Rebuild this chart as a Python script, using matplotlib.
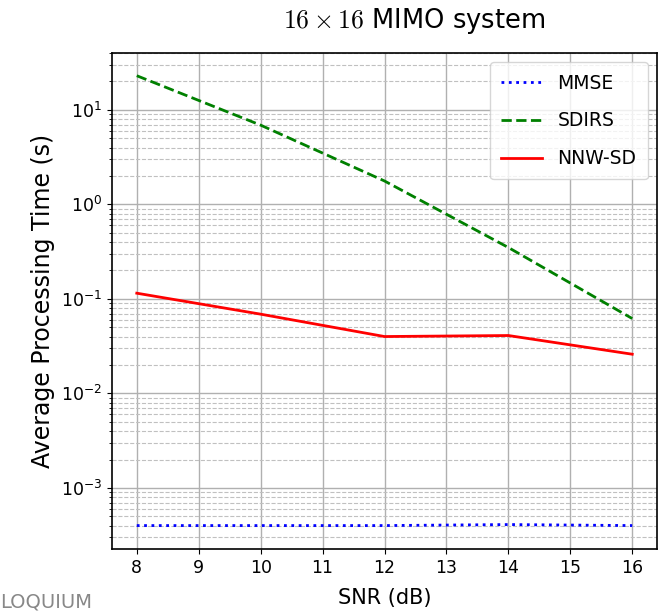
import matplotlib
matplotlib.use("Agg")
import matplotlib.pyplot as plt
from matplotlib.ticker import LogLocator

snr = [8, 10, 12, 14, 16]
mmse = [4.0e-4, 4.0e-4, 4.0e-4, 4.1e-4, 4.0e-4]
sdirs = [23, 6.9, 1.77, 0.35, 0.062]
nnwsd = [0.115, 0.069, 0.040, 0.041, 0.026]
xticks = [8, 9, 10, 11, 12, 13, 14, 15, 16]

fig = plt.figure(figsize=(6.67, 6.13), dpi=100)
ax = fig.add_axes([112/667, 1-549/613, (657-112)/667, (549-53)/613])

ax.plot(snr, mmse, color="blue", linestyle=":", linewidth=2, label="MMSE")
ax.plot(snr, sdirs, color="green", linestyle="--", linewidth=2, label="SDIRS")
ax.plot(snr, nnwsd, color="red", linestyle="-", linewidth=2, label="NNW-SD")

ax.set_yscale("log")
ax.set_ylim(2.26e-4, 40)
ax.set_xlim(7.6, 16.4)
ax.set_xticks(xticks)
ax.yaxis.set_major_locator(LogLocator(base=10, numticks=20))
ax.yaxis.set_minor_locator(LogLocator(base=10, subs=range(2, 10), numticks=100))
ax.grid(True, which="major", color="#b0b0b0", linestyle="-", linewidth=1)
ax.grid(True, which="minor", axis="y", color="#c0c0c0", linestyle="--", linewidth=0.8)
ax.tick_params(labelsize=12.5)
for s in ax.spines.values():
    s.set_linewidth(1.2)

ax.set_xlabel("SNR (dB)", fontsize=15, labelpad=8)
ax.set_ylabel("Average Processing Time (s)", fontsize=17)
ax.set_title(r"$16\times16$ MIMO system", fontsize=18.5, x=0.554, pad=18,
             math_fontfamily="cm")
ax.legend(loc="upper right", fontsize=13.5, handlelength=2.2, borderpad=0.6,
          labelspacing=1.0)

fig.text(0.0, 0.003, "LOQUIUM", fontsize=14, color="#888888", ha="left", va="bottom")

fig.savefig("out.png", dpi=100)
